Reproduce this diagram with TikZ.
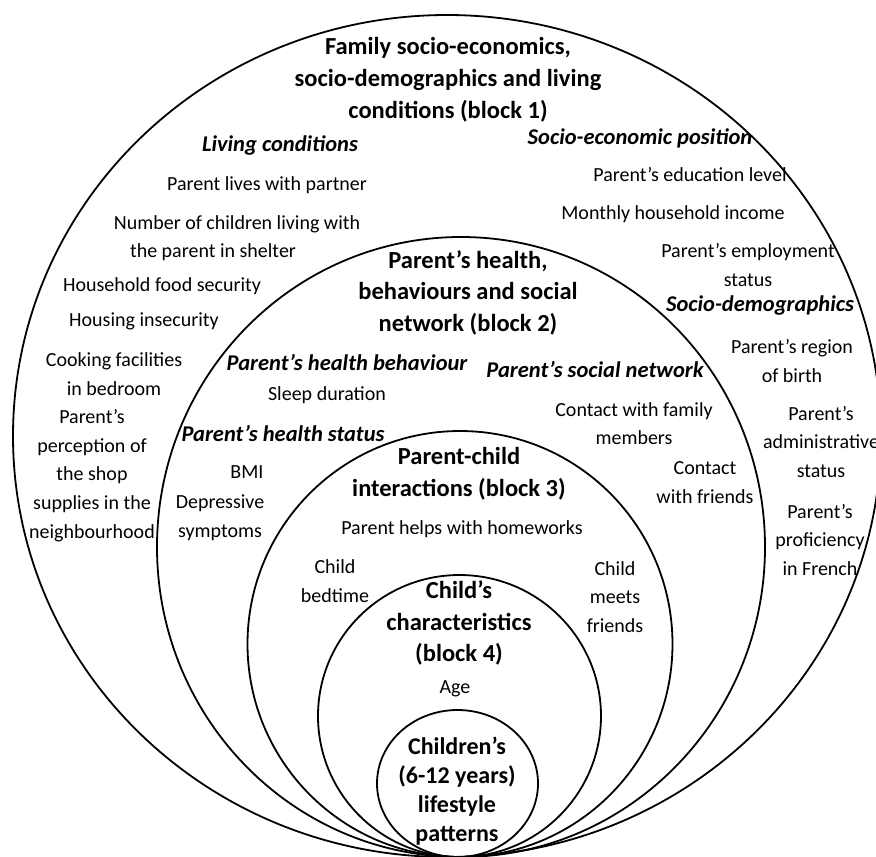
\documentclass[tikz,border=0pt]{standalone}
\usepackage{fontspec}
\setmainfont{Carlito}
\begin{document}
\begin{tikzpicture}[x=1pt,y=-1pt,
  ring/.style={draw=black,line width=1.8pt},
  body/.style={font=\fontsize{20}{28.7}\selectfont,inner sep=0pt,align=center},
  head/.style={font=\fontsize{22.5}{28}\selectfont\bfseries\itshape,inner sep=0pt},
  title/.style={font=\fontsize{24.5}{31.5}\selectfont\bfseries,inner sep=0pt,align=center}]
\useasboundingbox (0,0) rectangle (876,857);
% nested ellipses, tangent at the bottom
\draw[ring] (447,436) ellipse [x radius=434pt, y radius=421pt];
\draw[ring] (461,547) ellipse [x radius=304pt, y radius=310pt];
\draw[ring] (460,644) ellipse [x radius=212.5pt, y radius=213pt];
\draw[ring] (459.5,716) ellipse [x radius=141.5pt, y radius=141pt];
\draw[ring] (457.5,783.5) ellipse [x radius=80.5pt, y radius=73.5pt];
% block 1
\node[title,font=\fontsize{24.5}{32}\selectfont\bfseries] (t1) at (448,80) {Family socio-economics,\\socio-demographics and living\\conditions (block 1)};
\node[head] (lc) at (280,145) {Living conditions};
\node[body] (lc1) at (267,185) {Parent lives with partner};
\node[body] (lc2a) at (237,224) {Number of children living with};
\node[body] (lc2b) at (213,252) {the parent in shelter};
\node[body] (lc3) at (162,286) {Household food security};
\node[body] (lc4) at (144,321) {Housing insecurity};
\node[body] (lc5) at (114,374) {Cooking facilities\\in bedroom};
\node[body] (lc6) at (92,475.5) {Parent’s\\perception of\\the shop\\supplies in the\\neighbourhood};
\node[head] (sep) at (640,138) {Socio-economic position};
\node[body] (se1) at (690,175) {Parent’s education level};
\node[body] (se2) at (673,214) {Monthly household income};
\node[body] (se3) at (748,265) {Parent’s employment\\status};
\node[head] (sd) at (760,305) {Socio-demographics};
\node[body] (sd1) at (792,361) {Parent’s region\\of birth};
\node[body] (sd2) at (821,442) {Parent’s\\administrative\\status};
\node[body] (sd3) at (820,540) {Parent’s\\proficiency\\in French};
% block 2
\node[title] (t2) at (468,292.5) {Parent’s health,\\behaviours and social\\network (block 2)};
\node[head] (hb) at (347,362) {Parent’s health behaviour};
\node[body] (hb1) at (327,395) {Sleep duration};
\node[head] (hs) at (283,433) {Parent’s health status};
\node[body] (hs1) at (247,472) {BMI};
\node[body] (hs2) at (220,517.5) {Depressive\\symptoms};
\node[head] (sn) at (595,369) {Parent’s social network};
\node[body] (sn1) at (634,423.5) {Contact with family\\members};
\node[body] (sn2) at (705,482.5) {Contact\\with friends};
% block 3
\node[title] (t3) at (459,474) {Parent-child\\interactions (block 3)};
\node[body] (pc1) at (462,529) {Parent helps with homeworks};
\node[body] (pc2) at (335,581) {Child\\bedtime};
\node[body] (pc3) at (615,597) {Child\\meets\\friends};
% block 4
\node[title] (t4) at (459,623) {Child’s\\characteristics\\(block 4)};
\node[body] (cc1) at (455,689) {Age};
% centre
\node[title,font=\fontsize{24}{29}\selectfont\bfseries] (t5) at (457,791.5) {Children’s\\(6-12 years)\\lifestyle\\patterns};
\end{tikzpicture}
\end{document}
